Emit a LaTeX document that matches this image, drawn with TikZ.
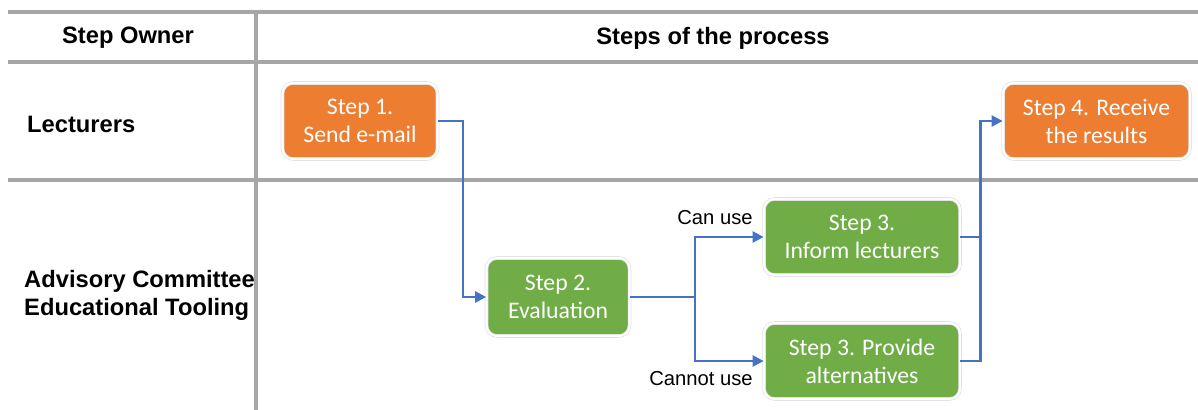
\documentclass[tikz,border=0pt]{standalone}
\usepackage{fontspec}
\setmainfont{Liberation Sans}
\newfontfamily\boxfont{Carlito}
\usepackage{tikz}
\usetikzlibrary{arrows.meta, positioning, calc}
\definecolor{stepor}{HTML}{ED7D31}
\definecolor{stepgr}{HTML}{70AD47}
\definecolor{flow}{HTML}{4472C4}
\definecolor{rule}{HTML}{A6A6A6}

\begin{document}
\begin{tikzpicture}[
    stepbox/.style={rectangle, rounded corners=6pt, draw=black!12, double=white,
                    double distance=1.2pt, text=white, align=center,
                    minimum height=1.52cm, font=\boxfont\fontsize{13.5}{16}\selectfont},
    owner/.style={font=\bfseries\fontsize{13.5}{16}\selectfont, align=left},
    cond/.style={font=\fontsize{11.5}{14}\selectfont, anchor=east, inner sep=0pt},
    grid/.style={draw=rule, line width=2pt},
    arrow/.style={-{Triangle[length=2.2mm, width=2.2mm]}, line width=1.4pt, color=flow}
  ]
    \useasboundingbox (0,0) rectangle (23.96,8.2);

    % Table
    \draw[grid] (0.16,7.96) -- (23.96,7.96);
    \draw[grid] (0.16,6.96) -- (23.96,6.96);
    \draw[grid] (0.16,4.6) -- (23.96,4.6);
    \draw[grid] (5.12,7.96) -- (5.12,0);

    % Headings
    \node[owner] (hdowner) at (2.56,7.44) {Step Owner};
    \node[owner] (hdsteps) at (14.26,7.44) {Steps of the process};
    \node[owner, anchor=west] (lect) at (0.42,5.72) {Lecturers};
    \node[owner, anchor=west] (acet) at (0.36,2.3) {Advisory Committee\\Educational Tooling};

    % Steps
    \node[stepbox, fill=stepor, minimum width=3.1cm] (s1) at (7.2,5.78) {Step 1.\\Send e-mail};
    \node[stepbox, fill=stepgr, minimum width=2.86cm, minimum height=1.56cm] (s2) at (11.16,2.26) {Step 2.\\Evaluation};
    \node[stepbox, fill=stepgr, minimum width=3.92cm] (s3a) at (17.24,3.46) {Step 3.\\Inform lecturers};
    \node[stepbox, fill=stepgr, minimum width=3.92cm] (s3b) at (17.24,0.98) {Step 3. Provide\\alternatives};
    \node[stepbox, fill=stepor, minimum width=3.74cm] (s4) at (21.93,5.78) {Step 4. Receive\\the results};

    % Conditions
    \node[cond] (canuse) at (15.06,3.84) {Can use};
    \node[cond] (cannot) at (15.06,0.62) {Cannot use};

    % Arrows
    \draw[arrow] (s1.east) -- ++(0.5,0) |- (s2.west);
    \draw[arrow] (s2.east) -- ++(1.3,0) |- (s3a.west);
    \draw[arrow] (s2.east) -- ++(1.3,0) |- (s3b.west);
    \draw[line width=1.4pt, flow] (s3a.east) -- ++(0.4,0);
    \draw[arrow] (s3b.east) -- ++(0.4,0) |- (s4.west);
\end{tikzpicture}
\end{document}
